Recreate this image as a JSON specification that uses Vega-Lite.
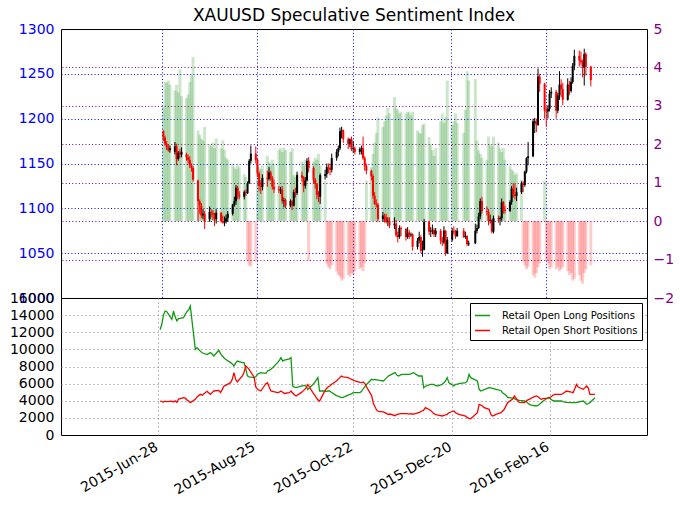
{
"$schema": "https://vega.github.io/schema/vega-lite/v6.json",
"padding": {"left": 5, "top": 6, "right": 2, "bottom": 2},
"background": "white",
"config": {
  "font": "DejaVu Sans",
  "view": {"stroke": "black", "strokeWidth": 1},
  "axis": {"labelFont": "DejaVu Sans", "labelFontSize": 14, "ticks": false, "domain": false, "title": null, "labelOverlap": false, "gridOpacity": 1, "gridWidth": 1}
},
"datasets": {"t": [
{"d":"2015-06-29","o":1186,"h":1187,"l":1175,"c":1179,"s":2.96,"L":12300,"S":3970},
{"d":"2015-06-30","o":1179,"h":1181,"l":1170,"c":1172,"s":3.62,"L":12900,"S":3900},
{"d":"2015-07-01","o":1172,"h":1175,"l":1165,"c":1168,"s":3.60,"L":14000,"S":3850},
{"d":"2015-07-02","o":1168,"h":1171,"l":1163,"c":1165,"s":3.66,"L":14480,"S":3950},
{"d":"2015-07-03","o":1165,"h":1170,"l":1162,"c":1167,"s":3.55,"L":14400,"S":3900},
{"d":"2015-07-06","o":1163,"h":1174,"l":1160,"c":1169,"s":3.40,"L":13500,"S":3950},
{"d":"2015-07-07","o":1169,"h":1172,"l":1148,"c":1155,"s":3.55,"L":14480,"S":3850},
{"d":"2015-07-08","o":1155,"h":1164,"l":1153,"c":1162,"s":3.35,"L":13800,"S":4000},
{"d":"2015-07-09","o":1162,"h":1166,"l":1156,"c":1160,"s":3.95,"L":13320,"S":3800},
{"d":"2015-07-10","o":1160,"h":1168,"l":1157,"c":1163,"s":3.25,"L":13600,"S":4200},
{"d":"2015-07-13","o":1160,"h":1162,"l":1153,"c":1157,"s":3.20,"L":13700,"S":4360},
{"d":"2015-07-14","o":1157,"h":1160,"l":1150,"c":1154,"s":3.30,"L":14100,"S":4300},
{"d":"2015-07-15","o":1154,"h":1158,"l":1145,"c":1148,"s":3.62,"L":14400,"S":4100},
{"d":"2015-07-16","o":1148,"h":1150,"l":1141,"c":1145,"s":3.80,"L":14600,"S":3970},
{"d":"2015-07-17","o":1145,"h":1147,"l":1130,"c":1132,"s":4.27,"L":15070,"S":3780},
{"d":"2015-07-20","o":1131,"h":1132,"l":1086,"c":1108,"s":2.36,"L":10000,"S":4166},
{"d":"2015-07-21","o":1108,"h":1110,"l":1094,"c":1103,"s":2.25,"L":10200,"S":4450},
{"d":"2015-07-22","o":1103,"h":1106,"l":1089,"c":1092,"s":2.15,"L":10000,"S":4600},
{"d":"2015-07-23","o":1092,"h":1099,"l":1088,"c":1094,"s":2.10,"L":9800,"S":4750},
{"d":"2015-07-24","o":1094,"h":1097,"l":1077,"c":1085,"s":2.45,"L":9600,"S":4650},
{"d":"2015-07-27","o":1088,"h":1102,"l":1085,"c":1096,"s":2.00,"L":9400,"S":5100},
{"d":"2015-07-28","o":1096,"h":1099,"l":1090,"c":1095,"s":1.95,"L":9500,"S":4900},
{"d":"2015-07-29","o":1095,"h":1098,"l":1087,"c":1093,"s":2.05,"L":9620,"S":4750},
{"d":"2015-07-30","o":1093,"h":1095,"l":1080,"c":1088,"s":1.90,"L":9450,"S":4950},
{"d":"2015-07-31","o":1088,"h":1099,"l":1083,"c":1095,"s":2.15,"L":9230,"S":5139},
{"d":"2015-08-03","o":1095,"h":1096,"l":1084,"c":1086,"s":1.90,"L":9900,"S":5200},
{"d":"2015-08-04","o":1086,"h":1092,"l":1083,"c":1084,"s":2.10,"L":9500,"S":4944},
{"d":"2015-08-05","o":1084,"h":1091,"l":1080,"c":1085,"s":1.85,"L":9250,"S":5300},
{"d":"2015-08-06","o":1085,"h":1093,"l":1083,"c":1089,"s":1.65,"L":9030,"S":5700},
{"d":"2015-08-07","o":1089,"h":1097,"l":1085,"c":1094,"s":1.60,"L":8850,"S":5800},
{"d":"2015-08-10","o":1094,"h":1105,"l":1092,"c":1104,"s":1.50,"L":8450,"S":6112},
{"d":"2015-08-11","o":1104,"h":1113,"l":1102,"c":1108,"s":1.40,"L":8300,"S":6500},
{"d":"2015-08-12","o":1108,"h":1126,"l":1104,"c":1123,"s":1.35,"L":8060,"S":7280},
{"d":"2015-08-13","o":1123,"h":1125,"l":1110,"c":1115,"s":1.45,"L":8400,"S":6500},
{"d":"2015-08-14","o":1115,"h":1119,"l":1110,"c":1113,"s":1.40,"L":8640,"S":6200},
{"d":"2015-08-17","o":1113,"h":1120,"l":1110,"c":1118,"s":1.22,"L":8450,"S":6900},
{"d":"2015-08-18","o":1118,"h":1121,"l":1114,"c":1117,"s":1.15,"L":8450,"S":7300},
{"d":"2015-08-19","o":1117,"h":1130,"l":1116,"c":1128,"s":-1.03,"L":7800,"S":8059},
{"d":"2015-08-20","o":1128,"h":1155,"l":1127,"c":1153,"s":-1.15,"L":6900,"S":7900},
{"d":"2015-08-21","o":1153,"h":1170,"l":1150,"c":1161,"s":-1.18,"L":6800,"S":7670},
{"d":"2015-08-24","o":1161,"h":1169,"l":1150,"c":1154,"s":-1.05,"L":6700,"S":6750},
{"d":"2015-08-25","o":1154,"h":1156,"l":1135,"c":1139,"s":1.45,"L":6800,"S":5600},
{"d":"2015-08-26","o":1139,"h":1141,"l":1119,"c":1125,"s":1.40,"L":7090,"S":5334},
{"d":"2015-08-27","o":1125,"h":1131,"l":1116,"c":1124,"s":1.35,"L":7200,"S":5250},
{"d":"2015-08-28","o":1124,"h":1138,"l":1120,"c":1134,"s":1.45,"L":7280,"S":5139},
{"d":"2015-08-31","o":1134,"h":1142,"l":1124,"c":1133,"s":1.70,"L":7200,"S":6000},
{"d":"2015-09-01","o":1133,"h":1146,"l":1131,"c":1140,"s":1.55,"L":7480,"S":6112},
{"d":"2015-09-02","o":1140,"h":1142,"l":1131,"c":1134,"s":1.45,"L":7550,"S":5600},
{"d":"2015-09-03","o":1134,"h":1136,"l":1121,"c":1124,"s":1.60,"L":7670,"S":5139},
{"d":"2015-09-04","o":1124,"h":1132,"l":1117,"c":1121,"s":1.50,"L":7850,"S":5100},
{"d":"2015-09-07","o":1121,"h":1125,"l":1117,"c":1120,"s":1.85,"L":8450,"S":4944},
{"d":"2015-09-08","o":1120,"h":1124,"l":1116,"c":1121,"s":1.90,"L":8700,"S":5000},
{"d":"2015-09-09","o":1121,"h":1125,"l":1105,"c":1108,"s":1.80,"L":9030,"S":5139},
{"d":"2015-09-10","o":1108,"h":1112,"l":1101,"c":1109,"s":1.92,"L":8640,"S":5000},
{"d":"2015-09-11","o":1109,"h":1111,"l":1100,"c":1103,"s":1.85,"L":8750,"S":4850},
{"d":"2015-09-14","o":1103,"h":1110,"l":1101,"c":1108,"s":1.80,"L":8900,"S":4950},
{"d":"2015-09-15","o":1108,"h":1109,"l":1098,"c":1103,"s":1.90,"L":9030,"S":5139},
{"d":"2015-09-16","o":1103,"h":1121,"l":1102,"c":1118,"s":1.20,"L":5720,"S":4900},
{"d":"2015-09-17","o":1118,"h":1123,"l":1112,"c":1117,"s":1.15,"L":5600,"S":4700},
{"d":"2015-09-18","o":1117,"h":1141,"l":1115,"c":1137,"s":1.25,"L":5530,"S":4555},
{"d":"2015-09-21","o":1137,"h":1141,"l":1130,"c":1134,"s":1.55,"L":5700,"S":4944},
{"d":"2015-09-22","o":1134,"h":1136,"l":1118,"c":1125,"s":1.45,"L":5750,"S":5100},
{"d":"2015-09-23","o":1125,"h":1135,"l":1122,"c":1131,"s":1.60,"L":5800,"S":5300},
{"d":"2015-09-24","o":1131,"h":1156,"l":1130,"c":1153,"s":1.10,"L":5700,"S":5500},
{"d":"2015-09-25","o":1153,"h":1157,"l":1140,"c":1145,"s":-1.03,"L":5300,"S":5900},
{"d":"2015-09-28","o":1145,"h":1147,"l":1128,"c":1132,"s":1.55,"L":5900,"S":4944},
{"d":"2015-09-29","o":1132,"h":1134,"l":1122,"c":1127,"s":1.65,"L":6110,"S":4700},
{"d":"2015-09-30","o":1127,"h":1128,"l":1110,"c":1115,"s":1.60,"L":6400,"S":4360},
{"d":"2015-10-01","o":1115,"h":1119,"l":1107,"c":1113,"s":1.75,"L":6700,"S":4100},
{"d":"2015-10-02","o":1113,"h":1139,"l":1105,"c":1137,"s":1.45,"L":5140,"S":3971},
{"d":"2015-10-05","o":1136,"h":1143,"l":1132,"c":1138,"s":1.05,"L":5140,"S":5100},
{"d":"2015-10-06","o":1138,"h":1150,"l":1134,"c":1146,"s":-1.10,"L":5100,"S":5400},
{"d":"2015-10-07","o":1146,"h":1150,"l":1139,"c":1145,"s":-1.20,"L":5140,"S":5600},
{"d":"2015-10-08","o":1145,"h":1150,"l":1137,"c":1143,"s":-1.25,"L":5140,"S":5723},
{"d":"2015-10-09","o":1143,"h":1161,"l":1140,"c":1156,"s":-1.15,"L":5000,"S":5900},
{"d":"2015-10-12","o":1156,"h":1166,"l":1153,"c":1163,"s":-1.30,"L":4600,"S":6307},
{"d":"2015-10-13","o":1163,"h":1170,"l":1158,"c":1167,"s":-1.40,"L":4555,"S":6500},
{"d":"2015-10-14","o":1167,"h":1190,"l":1165,"c":1186,"s":-1.45,"L":4450,"S":6700},
{"d":"2015-10-15","o":1186,"h":1191,"l":1178,"c":1187,"s":-1.55,"L":4360,"S":6891},
{"d":"2015-10-16","o":1187,"h":1188,"l":1173,"c":1177,"s":-1.50,"L":4400,"S":6800},
{"d":"2015-10-19","o":1177,"h":1179,"l":1166,"c":1172,"s":-1.40,"L":4650,"S":6696},
{"d":"2015-10-20","o":1172,"h":1178,"l":1168,"c":1177,"s":-1.45,"L":4750,"S":6600},
{"d":"2015-10-21","o":1177,"h":1180,"l":1164,"c":1166,"s":-1.35,"L":4800,"S":6502},
{"d":"2015-10-22","o":1166,"h":1175,"l":1162,"c":1167,"s":-1.40,"L":4944,"S":6400},
{"d":"2015-10-23","o":1167,"h":1169,"l":1160,"c":1163,"s":-1.30,"L":4944,"S":6307},
{"d":"2015-10-26","o":1163,"h":1168,"l":1160,"c":1166,"s":-1.25,"L":4944,"S":6150},
{"d":"2015-10-27","o":1166,"h":1170,"l":1160,"c":1167,"s":-1.20,"L":5100,"S":6112},
{"d":"2015-10-28","o":1167,"h":1180,"l":1154,"c":1156,"s":-1.30,"L":5400,"S":6200},
{"d":"2015-10-29","o":1156,"h":1158,"l":1142,"c":1147,"s":-1.10,"L":5650,"S":6000},
{"d":"2015-10-30","o":1147,"h":1150,"l":1138,"c":1142,"s":1.06,"L":5900,"S":5600},
{"d":"2015-11-02","o":1142,"h":1143,"l":1131,"c":1136,"s":1.40,"L":6500,"S":4600},
{"d":"2015-11-03","o":1136,"h":1138,"l":1111,"c":1114,"s":1.75,"L":6450,"S":3700},
{"d":"2015-11-04","o":1114,"h":1118,"l":1104,"c":1105,"s":2.05,"L":6500,"S":3300},
{"d":"2015-11-05","o":1105,"h":1110,"l":1101,"c":1104,"s":2.30,"L":6450,"S":2900},
{"d":"2015-11-06","o":1104,"h":1106,"l":1085,"c":1088,"s":2.70,"L":6400,"S":2750},
{"d":"2015-11-09","o":1088,"h":1096,"l":1085,"c":1092,"s":2.45,"L":6307,"S":2700},
{"d":"2015-11-10","o":1092,"h":1094,"l":1084,"c":1090,"s":2.60,"L":6500,"S":2608},
{"d":"2015-11-11","o":1090,"h":1094,"l":1083,"c":1085,"s":2.75,"L":6700,"S":2500},
{"d":"2015-11-12","o":1085,"h":1090,"l":1080,"c":1086,"s":2.96,"L":6891,"S":2400},
{"d":"2015-11-13","o":1086,"h":1090,"l":1078,"c":1081,"s":2.80,"L":7000,"S":2450},
{"d":"2015-11-16","o":1081,"h":1090,"l":1077,"c":1083,"s":3.23,"L":7280,"S":2250},
{"d":"2015-11-17","o":1083,"h":1087,"l":1068,"c":1070,"s":2.95,"L":7000,"S":2400},
{"d":"2015-11-18","o":1070,"h":1074,"l":1062,"c":1068,"s":2.90,"L":6891,"S":2450},
{"d":"2015-11-19","o":1068,"h":1081,"l":1066,"c":1078,"s":2.80,"L":7000,"S":2500},
{"d":"2015-11-20","o":1078,"h":1080,"l":1069,"c":1077,"s":2.85,"L":7086,"S":2500},
{"d":"2015-11-23","o":1077,"h":1078,"l":1064,"c":1068,"s":2.80,"L":7086,"S":2500},
{"d":"2015-11-24","o":1068,"h":1079,"l":1066,"c":1073,"s":2.85,"L":7086,"S":2450},
{"d":"2015-11-25","o":1073,"h":1076,"l":1066,"c":1070,"s":2.83,"L":7100,"S":2500},
{"d":"2015-11-26","o":1070,"h":1073,"l":1068,"c":1071,"s":2.75,"L":7200,"S":2450},
{"d":"2015-11-27","o":1071,"h":1072,"l":1053,"c":1057,"s":2.85,"L":7280,"S":2450},
{"d":"2015-11-30","o":1057,"h":1067,"l":1054,"c":1064,"s":2.36,"L":6891,"S":2600},
{"d":"2015-12-01","o":1064,"h":1074,"l":1061,"c":1068,"s":2.30,"L":6891,"S":2700},
{"d":"2015-12-02","o":1068,"h":1070,"l":1050,"c":1053,"s":2.28,"L":6891,"S":2803},
{"d":"2015-12-03","o":1053,"h":1064,"l":1046,"c":1054,"s":2.50,"L":5527,"S":2900},
{"d":"2015-12-04","o":1054,"h":1088,"l":1053,"c":1085,"s":2.54,"L":5700,"S":3193},
{"d":"2015-12-07","o":1085,"h":1086,"l":1070,"c":1074,"s":2.19,"L":5916,"S":2900},
{"d":"2015-12-08","o":1074,"h":1079,"l":1068,"c":1075,"s":2.00,"L":5916,"S":2700},
{"d":"2015-12-09","o":1075,"h":1082,"l":1071,"c":1076,"s":1.85,"L":5916,"S":2500},
{"d":"2015-12-10","o":1076,"h":1078,"l":1068,"c":1071,"s":1.70,"L":5800,"S":2414},
{"d":"2015-12-11","o":1071,"h":1078,"l":1068,"c":1075,"s":1.90,"L":5723,"S":2350},
{"d":"2015-12-14","o":1075,"h":1077,"l":1060,"c":1064,"s":2.60,"L":5916,"S":2219},
{"d":"2015-12-15","o":1064,"h":1068,"l":1058,"c":1062,"s":2.80,"L":6100,"S":2300},
{"d":"2015-12-16","o":1062,"h":1080,"l":1060,"c":1075,"s":2.55,"L":6307,"S":2350},
{"d":"2015-12-17","o":1075,"h":1076,"l":1047,"c":1050,"s":2.70,"L":6696,"S":2414},
{"d":"2015-12-18","o":1050,"h":1068,"l":1049,"c":1065,"s":3.66,"L":6112,"S":2600},
{"d":"2015-12-21","o":1065,"h":1078,"l":1063,"c":1075,"s":2.50,"L":5723,"S":2803},
{"d":"2015-12-22","o":1075,"h":1080,"l":1071,"c":1074,"s":2.60,"L":5916,"S":2600},
{"d":"2015-12-23","o":1074,"h":1076,"l":1066,"c":1069,"s":2.80,"L":5950,"S":2500},
{"d":"2015-12-24","o":1069,"h":1078,"l":1068,"c":1075,"s":2.55,"L":6000,"S":2414},
{"d":"2015-12-28","o":1075,"h":1078,"l":1067,"c":1068,"s":2.30,"L":6112,"S":2200},
{"d":"2015-12-29","o":1068,"h":1074,"l":1066,"c":1069,"s":2.90,"L":6307,"S":2024},
{"d":"2015-12-30","o":1069,"h":1070,"l":1058,"c":1060,"s":3.90,"L":7086,"S":1950},
{"d":"2015-12-31","o":1060,"h":1064,"l":1058,"c":1061,"s":3.66,"L":6696,"S":1907},
{"d":"2016-01-04","o":1061,"h":1083,"l":1060,"c":1075,"s":3.70,"L":6307,"S":2608},
{"d":"2016-01-05","o":1075,"h":1082,"l":1072,"c":1078,"s":2.10,"L":5334,"S":3582},
{"d":"2016-01-06","o":1078,"h":1095,"l":1077,"c":1091,"s":1.84,"L":5139,"S":3500},
{"d":"2016-01-07","o":1091,"h":1111,"l":1088,"c":1108,"s":1.75,"L":5200,"S":3387},
{"d":"2016-01-08","o":1108,"h":1113,"l":1094,"c":1097,"s":1.65,"L":5300,"S":3200},
{"d":"2016-01-11","o":1097,"h":1102,"l":1092,"c":1096,"s":1.60,"L":5527,"S":3000},
{"d":"2016-01-12","o":1096,"h":1099,"l":1081,"c":1086,"s":2.20,"L":5500,"S":2400},
{"d":"2016-01-13","o":1086,"h":1093,"l":1083,"c":1087,"s":2.00,"L":5450,"S":2219},
{"d":"2016-01-14","o":1087,"h":1088,"l":1072,"c":1074,"s":1.95,"L":5400,"S":2300},
{"d":"2016-01-15","o":1074,"h":1092,"l":1072,"c":1089,"s":2.20,"L":5334,"S":2414},
{"d":"2016-01-18","o":1089,"h":1092,"l":1084,"c":1088,"s":2.05,"L":5200,"S":2600},
{"d":"2016-01-19","o":1088,"h":1091,"l":1081,"c":1089,"s":1.90,"L":4944,"S":2803},
{"d":"2016-01-20","o":1089,"h":1111,"l":1086,"c":1107,"s":1.80,"L":4800,"S":3000},
{"d":"2016-01-21","o":1107,"h":1108,"l":1094,"c":1098,"s":1.90,"L":4650,"S":3400},
{"d":"2016-01-22","o":1098,"h":1103,"l":1094,"c":1097,"s":1.60,"L":4400,"S":3777},
{"d":"2016-01-25","o":1097,"h":1109,"l":1096,"c":1107,"s":1.45,"L":4300,"S":4200},
{"d":"2016-01-26","o":1107,"h":1125,"l":1104,"c":1122,"s":1.35,"L":4250,"S":4555},
{"d":"2016-01-27","o":1122,"h":1128,"l":1112,"c":1115,"s":1.30,"L":4166,"S":4300},
{"d":"2016-01-28","o":1115,"h":1127,"l":1110,"c":1114,"s":1.20,"L":4100,"S":4000},
{"d":"2016-01-29","o":1114,"h":1123,"l":1108,"c":1118,"s":1.25,"L":4050,"S":3800},
{"d":"2016-02-01","o":1118,"h":1130,"l":1116,"c":1128,"s":1.08,"L":3971,"S":3777},
{"d":"2016-02-02","o":1128,"h":1130,"l":1118,"c":1126,"s":-1.05,"L":3900,"S":3950},
{"d":"2016-02-03","o":1126,"h":1142,"l":1124,"c":1141,"s":-1.15,"L":3750,"S":4100},
{"d":"2016-02-04","o":1141,"h":1157,"l":1139,"c":1156,"s":-1.25,"L":3582,"S":4166},
{"d":"2016-02-05","o":1156,"h":1174,"l":1148,"c":1158,"s":-1.20,"L":3500,"S":4300},
{"d":"2016-02-08","o":1158,"h":1200,"l":1157,"c":1197,"s":-1.40,"L":3387,"S":4555},
{"d":"2016-02-09","o":1195,"h":1201,"l":1184,"c":1197,"s":-1.47,"L":3450,"S":4500},
{"d":"2016-02-10","o":1197,"h":1200,"l":1185,"c":1193,"s":-1.35,"L":3600,"S":4300},
{"d":"2016-02-11","o":1193,"h":1256,"l":1192,"c":1247,"s":-1.20,"L":3777,"S":4166},
{"d":"2016-02-12","o":1247,"h":1250,"l":1230,"c":1239,"s":-1.10,"L":3950,"S":4250},
{"d":"2016-02-15","o":1239,"h":1240,"l":1200,"c":1209,"s":1.06,"L":4360,"S":4300},
{"d":"2016-02-16","o":1209,"h":1213,"l":1191,"c":1208,"s":-1.02,"L":4300,"S":4360},
{"d":"2016-02-17","o":1208,"h":1215,"l":1200,"c":1211,"s":-1.10,"L":4150,"S":4500},
{"d":"2016-02-18","o":1211,"h":1232,"l":1208,"c":1228,"s":-1.25,"L":4000,"S":4650},
{"d":"2016-02-19","o":1228,"h":1235,"l":1223,"c":1230,"s":-1.20,"L":3971,"S":4750},
{"d":"2016-02-22","o":1230,"h":1232,"l":1200,"c":1209,"s":-1.25,"L":3971,"S":4750},
{"d":"2016-02-23","o":1209,"h":1229,"l":1206,"c":1226,"s":-1.20,"L":3971,"S":4750},
{"d":"2016-02-24","o":1226,"h":1253,"l":1221,"c":1238,"s":-1.30,"L":3900,"S":4850},
{"d":"2016-02-25","o":1238,"h":1244,"l":1224,"c":1233,"s":-1.25,"L":3850,"S":5000},
{"d":"2016-02-26","o":1233,"h":1240,"l":1215,"c":1221,"s":-1.20,"L":3800,"S":5139},
{"d":"2016-02-29","o":1221,"h":1245,"l":1220,"c":1238,"s":-1.30,"L":3777,"S":5000},
{"d":"2016-03-01","o":1238,"h":1242,"l":1226,"c":1231,"s":-1.40,"L":3777,"S":4944},
{"d":"2016-03-02","o":1231,"h":1246,"l":1229,"c":1241,"s":-1.35,"L":3777,"S":5400},
{"d":"2016-03-03","o":1241,"h":1262,"l":1239,"c":1259,"s":-1.55,"L":3800,"S":5916},
{"d":"2016-03-04","o":1259,"h":1277,"l":1254,"c":1270,"s":-1.50,"L":3850,"S":5600},
{"d":"2016-03-07","o":1270,"h":1276,"l":1258,"c":1265,"s":-1.40,"L":3971,"S":5334},
{"d":"2016-03-08","o":1265,"h":1275,"l":1260,"c":1263,"s":-1.55,"L":3800,"S":5500},
{"d":"2016-03-09","o":1263,"h":1266,"l":1246,"c":1257,"s":-1.63,"L":3582,"S":5723},
{"d":"2016-03-10","o":1257,"h":1278,"l":1237,"c":1272,"s":-1.35,"L":3650,"S":5500},
{"d":"2016-03-11","o":1272,"h":1274,"l":1248,"c":1258,"s":-1.25,"L":3777,"S":4750},
{"d":"2016-03-14","o":1258,"h":1259,"l":1236,"c":1243,"s":-1.15,"L":4360,"S":4750}
]},
"spacing": 0,
"bounds": "flush",
"resolve": {"legend": {"color": "independent"}, "scale": {"color": "independent"}},
"vconcat": [
  {
    "title": {"text": "XAUUSD Speculative Sentiment Index", "fontSize": 17, "fontWeight": "normal", "font": "DejaVu Sans", "anchor": "middle", "frame": "group", "offset": -3, "color": "black"},
    "width": 586,
    "height": 269,
    "data": {"name": "t"},
    "encoding": {
      "x": {"field": "d", "type": "temporal",
        "scale": {"type": "utc", "domain": [{"year": 2015, "month": "may", "date": 1, "utc": true}, {"year": 2016, "month": "apr", "date": 14, "utc": true}]},
        "axis": {"labels": false, "grid": true, "gridColor": "#0000ff", "gridDash": [1, 2.3],
          "values": [{"year": 2015, "month": "jun", "date": 28, "utc": true}, {"year": 2015, "month": "aug", "date": 25, "utc": true}, {"year": 2015, "month": "oct", "date": 22, "utc": true}, {"year": 2015, "month": "dec", "date": 20, "utc": true}, {"year": 2016, "month": "feb", "date": 16, "utc": true}]}}
    },
    "layer": [
      {
        "mark": {"type": "bar", "size": 3, "opacity": 0.2},
        "encoding": {
          "y": {"field": "s", "type": "quantitative", "scale": {"domain": [-2, 5], "nice": false, "zero": false},
            "axis": {"orient": "right", "values": [-2, -1, 0, 1, 2, 3, 4, 5], "format": "d", "labelColor": "#800080", "gridColor": "#800080", "gridDash": [1, 2.3], "grid": true,
              "gridOpacity": {"condition": {"test": "datum.value <= -2 || datum.value >= 5", "value": 0}, "value": 1}, "labelPadding": 6}},
          "y2": {"datum": 0},
          "color": {"condition": {"test": "datum.s > 0", "value": "#008000"}, "value": "#ff0000"}
        }
      },
      {
        "mark": {"type": "rule", "strokeWidth": 1},
        "encoding": {
          "y": {"field": "l", "type": "quantitative", "scale": {"domain": [1000, 1300], "nice": false, "zero": false}, "axis": null},
          "y2": {"field": "h"},
          "color": {"condition": {"test": "datum.c >= datum.o", "value": "black"}, "value": "#ff0000"}
        }
      },
      {
        "mark": {"type": "bar", "size": 2},
        "encoding": {
          "y": {"field": "o", "type": "quantitative", "scale": {"domain": [1000, 1300], "nice": false, "zero": false},
            "axis": {"orient": "left", "values": [1000, 1050, 1100, 1150, 1200, 1250, 1300], "format": "d", "labelColor": "#0000ff", "gridColor": "#0000ff", "gridDash": [1, 2.3], "grid": true,
              "gridOpacity": {"condition": {"test": "datum.value <= 1000 || datum.value >= 1300", "value": 0}, "value": 1}, "labelPadding": 7, "minExtent": 55, "maxExtent": 55}},
          "y2": {"field": "c"},
          "color": {"condition": {"test": "datum.c >= datum.o", "value": "black"}, "value": "#ff0000"}
        }
      }
    ],
    "resolve": {"scale": {"y": "independent"}}
  },
  {
    "width": 586,
    "height": 137,
    "data": {"name": "t"},
    "encoding": {
      "x": {"field": "d", "type": "temporal",
        "scale": {"type": "utc", "domain": [{"year": 2015, "month": "may", "date": 1, "utc": true}, {"year": 2016, "month": "apr", "date": 14, "utc": true}]},
        "axis": {"labelExpr": "utcFormat(datum.value, '%Y-%b-%d')", "labelAngle": -30, "labelAlign": "right", "labelBaseline": "alphabetic", "labelPadding": 14, "labelFlush": false,
          "grid": true, "gridColor": "#808080", "gridDash": [1, 3],
          "values": [{"year": 2015, "month": "jun", "date": 28, "utc": true}, {"year": 2015, "month": "aug", "date": 25, "utc": true}, {"year": 2015, "month": "oct", "date": 22, "utc": true}, {"year": 2015, "month": "dec", "date": 20, "utc": true}, {"year": 2016, "month": "feb", "date": 16, "utc": true}]}}
    },
    "layer": [
      {
        "mark": {"type": "line", "strokeWidth": 1.3},
        "encoding": {
          "y": {"field": "L", "type": "quantitative", "scale": {"domain": [0, 16000], "nice": false},
            "axis": {"values": [0, 2000, 4000, 6000, 8000, 10000, 12000, 14000, 16000], "format": "d", "labelColor": "black", "gridColor": "#808080", "gridDash": [1, 3], "grid": true,
              "gridOpacity": {"condition": {"test": "datum.value <= 0 || datum.value >= 16000", "value": 0}, "value": 1}, "labelPadding": 7, "minExtent": 55, "maxExtent": 55}},
          "color": {"datum": "Retail Open Long Positions", "type": "nominal",
            "scale": {"domain": ["Retail Open Long Positions", "Retail Open Short Positions"], "range": ["#119911", "#ff0000"]},
            "legend": {"orient": "top-right", "offset": 5, "title": null, "fillColor": "white", "strokeColor": "black", "padding": 4, "labelFontSize": 10, "labelFont": "DejaVu Sans", "symbolType": "stroke", "symbolStrokeWidth": 1.5, "symbolSize": 225, "rowPadding": 1, "labelOffset": 11, "cornerRadius": 0}}
        }
      },
      {
        "mark": {"type": "line", "strokeWidth": 1.3},
        "encoding": {
          "y": {"field": "S", "type": "quantitative", "scale": {"domain": [0, 16000], "nice": false},
            "axis": {"values": [0, 2000, 4000, 6000, 8000, 10000, 12000, 14000, 16000], "format": "d", "labelColor": "black", "gridColor": "#808080", "gridDash": [1, 3], "grid": true,
              "gridOpacity": {"condition": {"test": "datum.value <= 0 || datum.value >= 16000", "value": 0}, "value": 1}, "labelPadding": 7, "minExtent": 55, "maxExtent": 55}},
          "color": {"datum": "Retail Open Short Positions", "type": "nominal"}
        }
      }
    ]
  }
]
}
